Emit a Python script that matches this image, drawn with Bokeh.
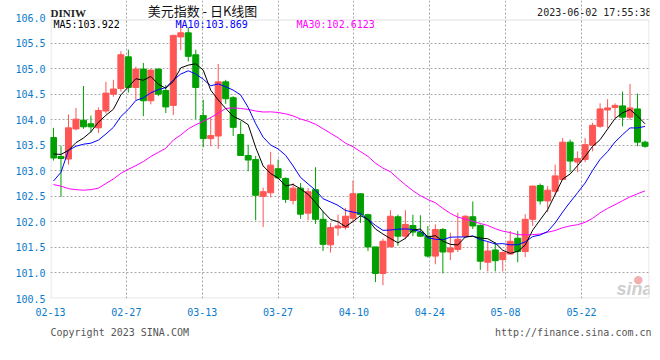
from bokeh.plotting import figure
from bokeh.models import FixedTicker, CustomJSTickFormatter, Label, ColumnDataSource, BoxAnnotation
from bokeh.embed import file_html
from bokeh.resources import INLINE

# ---------------- data ----------------
dates = ["02-13","02-14","02-15","02-16","02-17","02-20","02-21","02-22","02-23","02-24","02-27","02-28",
         "03-01","03-02","03-03","03-06","03-07","03-08","03-09","03-10","03-13","03-14","03-15","03-16","03-17",
         "03-20","03-21","03-22","03-23","03-24","03-27","03-28","03-29","03-30","03-31",
         "04-03","04-04","04-05","04-06","04-07","04-10","04-11","04-12","04-13","04-14","04-17","04-18","04-19",
         "04-20","04-21","04-24","04-25","04-26","04-27","04-28",
         "05-01","05-02","05-03","05-04","05-05","05-08","05-09","05-10","05-11","05-12","05-15","05-16","05-17",
         "05-18","05-19","05-22","05-23","05-24","05-25","05-26","05-29","05-30","05-31",
         "06-01","06-02"]

open_ = [103.65,103.28,103.23,103.82,103.99,103.92,103.84,104.17,104.50,104.61,
         105.23,104.63,104.99,104.37,104.99,104.57,104.28,105.62,105.70,105.27,
         104.08,103.63,103.68,104.74,104.43,103.71,103.30,103.22,102.50,102.57,
         103.04,102.85,102.42,102.66,102.17,102.63,102.05,101.55,101.88,101.89,
         102.07,102.55,102.14,101.51,100.99,101.51,102.10,101.72,101.93,101.80,
         101.72,101.33,101.85,101.41,101.46,101.72,102.10,101.93,101.21,101.45,
         101.26,101.37,101.68,101.42,102.05,102.71,102.41,102.60,102.83,103.56,
         103.17,103.22,103.50,103.87,104.19,104.24,104.27,104.05,104.21,103.56]
high = [103.84,103.49,104.10,104.23,104.66,104.08,104.24,104.74,104.78,105.34,
        105.37,105.04,105.11,105.00,105.00,104.68,105.66,105.94,105.80,105.37,
        104.39,104.05,105.09,104.78,104.46,103.97,103.51,103.29,102.67,103.37,
        103.22,102.87,102.76,102.76,102.66,103.07,102.21,101.98,102.14,102.27,
        102.81,102.56,102.16,101.51,101.67,102.23,102.14,102.23,102.14,102.13,
        101.92,101.95,101.88,101.79,102.18,102.13,102.40,101.95,101.61,101.60,
        101.42,101.82,101.82,102.15,102.71,102.75,102.70,103.12,103.64,103.61,
        103.38,103.64,103.94,104.32,104.40,104.32,104.55,104.70,104.51,103.59]
low = [103.20,102.49,103.12,103.79,103.82,103.75,103.74,104.12,104.45,104.55,
       104.53,104.38,104.07,104.30,104.46,104.13,104.09,105.36,105.14,104.01,
       103.46,103.48,103.43,104.31,103.68,103.29,102.99,102.03,101.90,102.48,
       102.83,102.37,102.34,102.06,102.03,101.96,101.43,101.40,101.73,101.85,
       101.99,101.98,101.43,100.82,100.76,101.51,101.53,101.66,101.72,101.71,
       101.30,101.17,100.99,101.25,101.41,101.69,101.86,101.06,101.03,101.03,
       101.03,101.36,101.21,101.31,101.92,102.34,102.19,102.52,102.82,102.97,
       102.97,103.17,103.38,103.84,103.84,104.03,103.87,104.00,103.48,103.45]
close = [103.25,103.24,103.84,104.01,103.86,103.86,104.18,104.52,104.60,105.27,
         104.63,104.99,104.37,104.97,104.50,104.25,105.65,105.70,105.24,104.63,
         103.63,103.69,104.74,104.41,103.85,103.30,103.21,102.52,102.59,103.11,
         102.86,102.44,102.66,102.15,102.59,102.05,101.56,101.89,101.92,102.11,
         102.55,102.14,101.51,100.99,101.62,102.11,101.72,101.95,101.80,101.72,
         101.33,101.85,101.41,101.49,101.66,102.11,101.92,101.23,101.43,101.24,
         101.40,101.62,101.42,102.05,102.70,102.41,102.62,102.90,103.56,103.19,
         103.24,103.51,103.89,104.21,104.23,104.28,104.05,104.23,103.56,103.48]

# moving-average values at the left edge (they depend on closes before 02-13)
ma5_head = [103.33, 103.32, 103.40, 103.55]
ma10_head = [102.80, 102.97, 103.40, 103.48, 103.52, 103.54, 103.60, 103.72, 103.85]
ma30_head = [102.73, 102.70, 102.65, 102.63, 102.62, 102.63, 102.66, 102.75, 102.84, 102.95,
             103.03, 103.10, 103.18, 103.28, 103.36, 103.44, 103.60, 103.70, 103.82, 103.90,
             103.97, 104.04, 104.13, 104.22, 104.23, 104.22, 104.20, 104.17, 104.15]

tick_dates = ["02-13","02-27","03-13","03-27","04-10","04-24","05-08","05-22"]
y_ticks = [100.5,101.0,101.5,102.0,102.5,103.0,103.5,104.0,104.5,105.0,105.5,106.0]
ma_names = ["MA5", "MA10", "MA30"]
ma_last = ["103.922", "103.869", "102.6123"]
symbol = "DINIW"
title_text = "美元指数 - 日K线图"
stamp = "2023-06-02 17:55:38"
copyright_text = "Copyright 2023 SINA.COM"
url_text = "http://finance.sina.com.cn"


def rolling(vals, n, head):
    out = list(head)
    for i in range(len(head), len(vals)):
        out.append(sum(vals[i - n + 1:i + 1]) / n)
    return out

ma5 = rolling(close, 5, ma5_head)
ma10 = rolling(close, 10, ma10_head)
ma30 = rolling(close, 30, ma30_head)

# ---------------- styling / layout ----------------
RED = "#ff5555"
GREEN = "#00a000"
AXIS_BLUE = "#0a7acc"
GRID = "#a8a8a8"
BOX = "#999999"
MONO = "DejaVu Sans Mono"

W, H = 652, 352
BL, BR, BB = 50, 3, 54          # frame reaches the canvas top; header drawn inside it
HEADER_PX = 17                  # pixels between canvas top and the 106.0 level
BOX_TOP_PX = 19                 # the box's top edge sits a little below 106.0
frame_w = W - BL - BR
frame_h = H - BB
y0, y1 = y_ticks[0], y_ticks[-1]
px_per_y = (frame_h - HEADER_PX) / (y1 - y0)
y_top = y1 + HEADER_PX / px_per_y
box_top = y_top - (BOX_TOP_PX + 0.5) / px_per_y
x0, x1 = -0.4, len(dates) - 0.4
px_per_x = frame_w / (x1 - x0)

idx = list(range(len(dates)))
up = [c >= o for o, c in zip(open_, close)]
src = ColumnDataSource(dict(
    x=idx, o=open_, h=high, l=low, c=close,
    top=[max(o, c) for o, c in zip(open_, close)],
    bot=[min(o, c) for o, c in zip(open_, close)],
    col=[RED if u else GREEN for u in up],
))

p = figure(width=W, height=H, output_backend="svg", toolbar_location=None,
           x_range=(x0, x1), y_range=(y0, y_top),
           min_border_left=BL, min_border_right=BR, min_border_top=0, min_border_bottom=BB)
p.background_fill_color = "white"
p.border_fill_color = "white"
p.outline_line_color = None

# x ticks at the grid positions of the labelled dates
tick_pos = [x0] + [dates.index(d) * 1.013 - 0.4 for d in tick_dates[1:]]
xt = FixedTicker(ticks=tick_pos)
p.xaxis.ticker = xt
p.xaxis.formatter = CustomJSTickFormatter(args=dict(labels=tick_dates), code="return labels[index] || '';")
p.yaxis.ticker = FixedTicker(ticks=y_ticks)
p.yaxis.formatter = CustomJSTickFormatter(code="return tick.toFixed(1);")

for ax in (p.xaxis[0], p.yaxis[0]):
    ax.axis_line_color = None
    ax.major_tick_line_color = None
    ax.minor_tick_line_color = None
    ax.major_tick_out = 0
    ax.major_tick_in = 0
    ax.major_label_text_color = AXIS_BLUE
    ax.major_label_text_font = MONO
    ax.major_label_text_font_size = "10px"
p.yaxis.major_label_standoff = 5
p.xaxis.major_label_standoff = 9

p.xgrid.ticker = xt
p.xgrid.bounds = (y0, box_top)
p.ygrid.ticker = FixedTicker(ticks=y_ticks[:-1])
for g in (p.xgrid[0], p.ygrid[0]):
    g.grid_line_color = GRID
    g.grid_line_dash = "2 2"
    g.grid_line_width = 1

# plot box (inset half a pixel so the frame clip keeps the whole 1px line)
p.add_layout(BoxAnnotation(left=x0 + 0.5 / px_per_x, right=x1 - 0.5 / px_per_x,
                           bottom=y0 + 0.5 / px_per_y, top=box_top,
                           fill_alpha=0, line_color=BOX, line_width=1, level="underlay"))

# candles
p.segment(x0="x", y0="l", x1="x", y1="h", color="col", line_width=1, source=src)
p.vbar(x="x", width=0.8, top="top", bottom="bot", fill_color="col", line_color="col", line_width=1, source=src)

# moving averages
p.line(idx, ma30, color="#ff00ff", line_width=1)
p.line(idx, ma10, color="#0000ff", line_width=1)
p.line(idx, ma5, color="#000000", line_width=1)


def lab(text, fx, fy, size, color, font=MONO, align="left", style="normal", place="center"):
    p.add_layout(Label(x=fx, y=fy, x_units="canvas", y_units="canvas",
                       text=text, text_align=align, text_baseline="middle",
                       text_font=font, text_font_size=size, text_color=color,
                       text_font_style=style), place)

# header (inside the frame area above the box)
lab(symbol, 50, 12, "11px", "#222222", font="Liberation Serif", style="bold")
lab(title_text, 202, 10, "13px", "#111111", font="Noto Sans CJK SC", align="center")
lab(stamp, 651, 12, "10px", "#222222", align="right")
ma_cols = ["#000000", "#0000ff", "#ff00ff"]
ma_x = [53, 175, 296]
for name, val, col, fx in zip(ma_names, ma_last, ma_cols, ma_x):
    lab(f"{name}:{val}", fx, 24, "10px", col)
# footer
lab(copyright_text, 50, 332, "10px", "#555555", place="below")
lab(url_text, 651, 332, "10px", "#555555", align="right", place="below")
# sina watermark
lab("sina", 616, 288, "18px", "#cfcfcf", font="Liberation Sans", style="bold italic")
lab("●", 633, 279, "11px", "#f2b0b0", font="DejaVu Sans")

open("out.html", "w").write(file_html(p, INLINE))
